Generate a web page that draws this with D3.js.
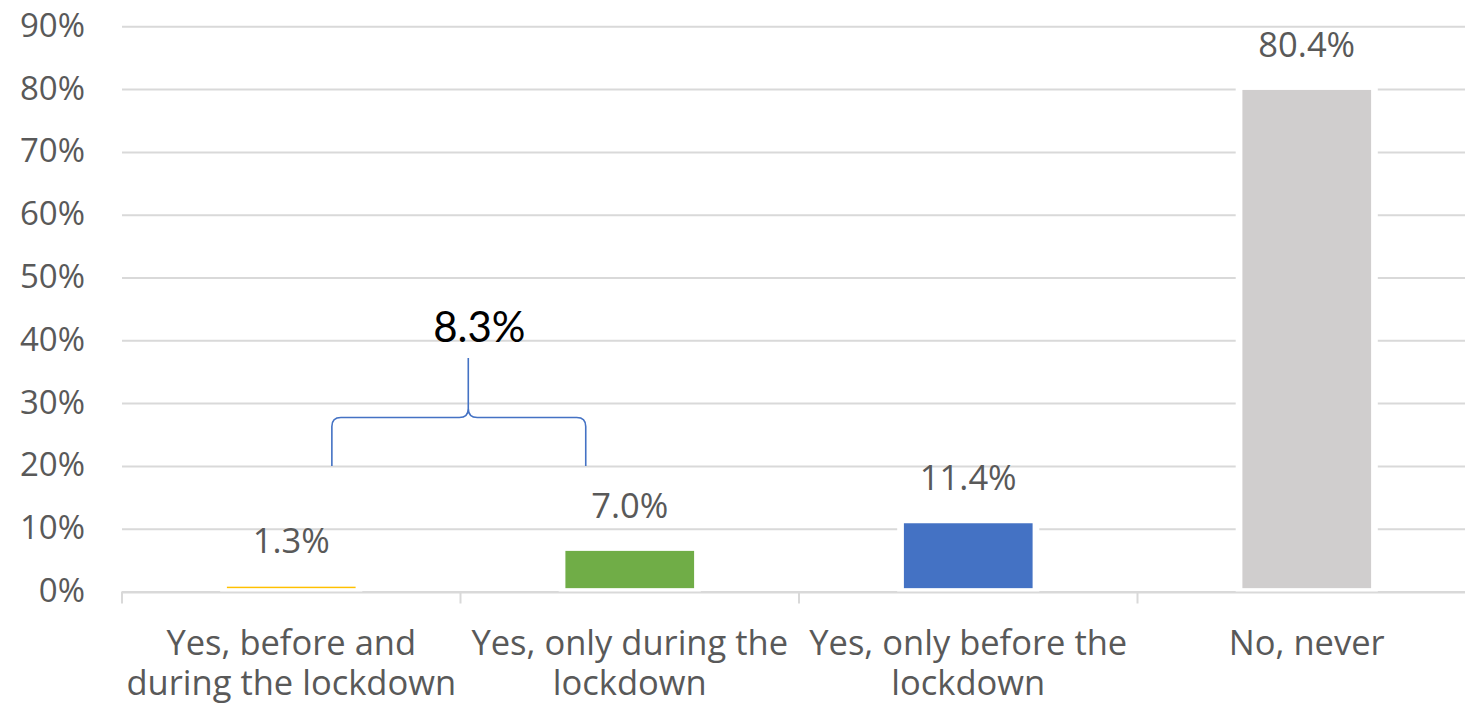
<!DOCTYPE html>
<html>
<head>
<meta charset="utf-8">
<script src="https://cdn.jsdelivr.net/npm/d3@7"></script>
<style>
    body { margin: 0; background: #fff; }
    svg { display: block; }
    text { font-family: "Open Sans", "Noto Sans", sans-serif; }
</style>
</head>
<body>
<svg width="1465" height="709"></svg>
<script>
const categories = ["Yes, before and\nduring the lockdown", "Yes, only during the\nlockdown", "Yes, only before the\nlockdown", "No, never"];
const values = [1.3, 7.0, 11.4, 80.4];
const bar_colors = ["#FFC000", "#70AD47", "#4472C4", "#D0CECE"];
const y_ticks = [0, 10, 20, 30, 40, 50, 60, 70, 80, 90];
const brace_group = [0, 1];   // bars summed under the brace

const svg = d3.select("svg");
const text_color = "#595959";
const grid_color = "#D9D9D9";
const font_size = 34.5;

const x = d3.scaleBand()
    .domain(categories)
    .range([122, 1476])
    .paddingInner(0.6)
    .paddingOuter(0.3);

const y = d3.scaleLinear()
    .domain([0, 90])
    .range([591.5, 26.3]);

// gridlines + y labels
let y_axis = svg.append("g")
    .call(d3.axisLeft(y)
        .tickValues(y_ticks)
        .tickSize(-(x.range()[1] - x.range()[0]))
        .tickFormat(d => d + "%"))
    .attr("transform", `translate(${x.range()[0]},0)`);

y_axis.select(".domain").remove();
y_axis.selectAll(".tick line")
    .attr("stroke", grid_color)
    .attr("stroke-width", 2);
y_axis.selectAll(".tick text")
    .attr("x", -37)
    .attr("dy", "0.3em")
    .attr("fill", text_color)
    .attr("font-size", 33)
    .attr("font-family", "'Open Sans', sans-serif");

// bars
svg.append("g")
    .selectAll("rect")
    .data(values)
    .join("rect")
    .attr("x", (_, i) => x(categories[i]))
    .attr("y", d => y(d))
    .attr("width", x.bandwidth())
    .attr("height", d => y(0) - y(d))
    .attr("fill", (_, i) => bar_colors[i])
    .attr("stroke", "#fff")
    .attr("stroke-width", 6.7);

// category axis line with ticks between bands
let step = x.step();
let boundaries = categories.map(c => x(c) - step * x.paddingInner() / 2);
boundaries.push(x.range()[1]);

let x_axis = svg.append("g");
x_axis.append("line")
    .attr("x1", x.range()[0])
    .attr("x2", x.range()[1])
    .attr("y1", y(0) + 1)
    .attr("y2", y(0) + 1)
    .attr("stroke", grid_color)
    .attr("stroke-width", 2);
x_axis.selectAll("line.tick")
    .data(boundaries)
    .join("line")
    .classed("tick", true)
    .attr("x1", d => d)
    .attr("x2", d => d)
    .attr("y1", y(0))
    .attr("y2", y(0) + 12)
    .attr("stroke", grid_color)
    .attr("stroke-width", 2);

// category labels, one text per line
let cat_groups = svg.append("g")
    .selectAll("g")
    .data(categories)
    .join("g");

cat_groups.selectAll("text")
    .data(d => d.split("\n").map(t => ({ cat: d, t: t })))
    .join("text")
    .attr("x", d => x(d.cat) + x.bandwidth() / 2)
    .attr("y", (_, i) => y(0) + 63 + i * 40)
    .attr("text-anchor", "middle")
    .attr("fill", text_color)
    .attr("font-size", font_size)
    .text(d => d.t);

// value labels
svg.append("g")
    .selectAll("text")
    .data(values)
    .join("text")
    .attr("x", (_, i) => x(categories[i]) + x.bandwidth() / 2)
    .attr("y", d => y(d) - 30)
    .attr("text-anchor", "middle")
    .attr("fill", text_color)
    .attr("font-size", font_size)
    .text(d => d.toFixed(1) + "%");

// brace over the first two bars
let mid = boundaries[brace_group[1]];
let left = mid - 0.38 * step;
let right = mid + 0.37 * step;
let tip = mid + 0.023 * step;
let y_foot = y(20), y_bar = y(27.7), y_top = y(37.2);
let r = 9;

let brace = d3.path();
brace.moveTo(left, y_foot);
brace.lineTo(left, y_bar + r);
brace.quadraticCurveTo(left, y_bar, left + r, y_bar);
brace.lineTo(tip - r, y_bar);
brace.quadraticCurveTo(tip, y_bar, tip, y_bar - r);
brace.lineTo(tip, y_top);
brace.moveTo(tip, y_bar - r);
brace.quadraticCurveTo(tip, y_bar, tip + r, y_bar);
brace.lineTo(right - r, y_bar);
brace.quadraticCurveTo(right, y_bar, right, y_bar + r);
brace.lineTo(right, y_foot);

svg.append("path")
    .attr("d", brace.toString())
    .attr("fill", "none")
    .attr("stroke", "#4472C4")
    .attr("stroke-width", 1.6);

let group_total = d3.sum(brace_group, i => values[i]);
svg.append("text")
    .attr("x", tip + 11)
    .attr("y", y_top - 16)
    .attr("text-anchor", "middle")
    .attr("fill", "#000")
    .attr("font-size", 42)
    .style("font-family", "Lato, sans-serif")
    .text(group_total.toFixed(1) + "%");
</script>
</body>
</html>
